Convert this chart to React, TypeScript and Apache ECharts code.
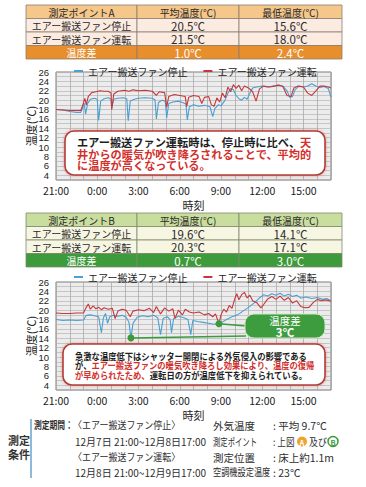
import React, { useEffect, useRef } from 'react';
import * as echarts from 'echarts';

const FF = '"Noto Sans CJK JP", "Noto Sans", sans-serif';
const NUMF = '"Liberation Sans Narrow", "Liberation Sans", sans-serif';

const seriesNames = ['エアー搬送ファン停止', 'エアー搬送ファン運転'];
const xTickLabels = ['21:00', '0:00', '3:00', '6:00', '9:00', '12:00', '15:00'];

// hours since 21:00, temperature (°C)
const aStop: [number, number][] = [
  [0, 18.0], [0.5, 17.9], [1.0, 17.6], [1.5, 17.4], [1.8, 17.4], [1.95, 18.5], [2.05, 19.4], [2.15, 17.0],
  [2.3, 19.3], [2.5, 20.2], [2.8, 20.4], [3.0, 20.2], [3.1, 15.7], [3.25, 19.8], [3.5, 20.3], [3.8, 20.5],
  [4.0, 20.2], [4.05, 18.3], [4.2, 20.2], [4.5, 20.4], [4.9, 20.5], [5.15, 20.3], [5.25, 15.6], [5.4, 19.8],
  [5.7, 20.2], [6.0, 20.4], [6.5, 20.5], [7.0, 20.4], [7.2, 20.1], [7.3, 16.0], [7.45, 19.5], [7.7, 20.0],
  [7.95, 19.8], [8.05, 16.2], [8.2, 19.3], [8.5, 19.6], [8.9, 19.8], [9.2, 19.5], [9.45, 19.2], [9.55, 15.8],
  [9.7, 18.6], [10.0, 19.0], [10.4, 18.7], [10.8, 18.9], [11.2, 18.6], [11.4, 16.5], [11.55, 18.2], [11.8, 19.0],
  [12.0, 18.8], [12.3, 20.0], [12.5, 21.5], [12.7, 22.5], [12.9, 22.2], [13.1, 21.0], [13.3, 20.3], [13.5, 20.0],
  [13.7, 20.6], [13.9, 20.2], [14.1, 21.5], [14.3, 22.6], [14.6, 22.8], [15.0, 23.0], [15.4, 22.8], [15.8, 23.0],
  [16.2, 23.2], [16.5, 23.0], [16.8, 22.0], [17.0, 20.6], [17.2, 20.8], [17.4, 22.3], [17.7, 23.0], [18.0, 22.8],
  [18.3, 23.0], [18.6, 23.5], [18.9, 23.0], [19.2, 22.7], [19.5, 22.9], [19.8, 22.5], [20.0, 20.6],
];

const aRun: [number, number][] = [
  [0, 18.0], [0.5, 17.9], [1.0, 17.8], [1.5, 17.8], [1.8, 17.8], [1.95, 19.0], [2.1, 20.4], [2.2, 19.0],
  [2.35, 20.8], [2.6, 21.6], [2.9, 21.8], [3.2, 22.0], [3.5, 21.9], [3.8, 21.9], [4.0, 21.5], [4.05, 18.0],
  [4.2, 21.3], [4.5, 21.9], [5.0, 22.1], [5.3, 21.9], [5.6, 22.2], [6.0, 22.0], [6.5, 22.1], [7.0, 21.9],
  [7.3, 21.0], [7.5, 21.8], [7.9, 21.6], [8.05, 18.5], [8.2, 20.8], [8.6, 21.2], [9.0, 21.0], [9.4, 20.8],
  [9.5, 18.6], [9.65, 20.6], [10.0, 21.0], [10.4, 20.8], [10.6, 19.3], [10.8, 20.6], [11.1, 20.8], [11.3, 19.0],
  [11.5, 18.7], [11.7, 20.5], [11.9, 19.6], [12.1, 21.5], [12.3, 20.5], [12.5, 22.8], [12.7, 21.8], [12.9, 23.3],
  [13.1, 22.5], [13.3, 23.2], [13.5, 22.0], [13.7, 23.0], [14.0, 22.6], [14.3, 21.8], [14.55, 19.8], [14.8, 22.4],
  [15.1, 23.0], [15.5, 22.8], [15.9, 23.0], [16.2, 23.2], [16.5, 22.9], [16.8, 21.0], [17.1, 20.8], [17.3, 22.6],
  [17.6, 23.0], [18.0, 22.8], [18.3, 21.5], [18.6, 21.0], [18.9, 22.0], [19.2, 23.0], [19.5, 23.0], [19.8, 22.8],
  [20.0, 22.6],
];

const bStop: [number, number][] = [
  [0, 18.0], [0.5, 17.8], [1.0, 17.9], [1.5, 17.8], [2.0, 17.9], [2.2, 18.9], [2.5, 19.0], [2.8, 18.8],
  [3.1, 18.6], [3.3, 15.2], [3.45, 18.4], [3.6, 19.3], [3.75, 17.2], [3.9, 18.6], [4.2, 18.9], [4.5, 18.7],
  [4.8, 18.9], [5.1, 18.5], [5.3, 17.5], [5.45, 14.1], [5.6, 17.2], [5.9, 18.5], [6.3, 18.8], [6.7, 18.6],
  [7.1, 18.9], [7.4, 18.4], [7.6, 14.8], [7.8, 18.3], [8.1, 18.6], [8.3, 18.0], [8.4, 15.2], [8.55, 18.2],
  [8.9, 18.7], [9.3, 18.4], [9.6, 18.0], [9.8, 14.8], [9.95, 17.8], [10.3, 17.6], [10.7, 17.4], [11.1, 17.2],
  [11.5, 17.0], [12.0, 17.3], [12.4, 18.0], [12.8, 18.6], [13.2, 19.0], [13.6, 19.8], [14.0, 20.6], [14.4, 21.5],
  [14.8, 22.6], [15.1, 23.3], [15.4, 23.0], [15.7, 23.5], [16.0, 23.2], [16.3, 23.6], [16.6, 23.0], [16.9, 23.4],
  [17.2, 22.9], [17.5, 23.2], [17.8, 22.6], [18.2, 22.8], [18.6, 22.5], [19.0, 22.7], [19.4, 22.3], [19.7, 22.5],
  [20.0, 22.0],
];

const bRun: [number, number][] = [
  [0, 19.4], [0.5, 19.3], [1.0, 19.3], [1.5, 19.4], [2.0, 19.4], [2.2, 20.6], [2.35, 21.3], [2.5, 20.2],
  [2.7, 20.9], [2.9, 20.3], [3.1, 20.6], [3.3, 20.1], [3.5, 20.5], [3.8, 20.2], [4.1, 20.4], [4.3, 18.2],
  [4.5, 19.8], [4.8, 20.2], [5.1, 20.0], [5.4, 18.6], [5.6, 19.8], [6.0, 20.1], [6.4, 19.9], [6.8, 20.4],
  [7.1, 19.5], [7.3, 20.8], [7.6, 19.2], [7.9, 20.5], [8.2, 19.8], [8.5, 20.3], [8.65, 18.2], [8.9, 20.0],
  [9.2, 19.0], [9.4, 20.2], [9.7, 19.6], [10.0, 19.4], [10.4, 19.6], [10.8, 19.0], [11.1, 19.3], [11.4, 18.6],
  [11.6, 19.2], [11.85, 17.1], [12.0, 19.0], [12.2, 20.2], [12.4, 19.6], [12.6, 21.0], [12.8, 20.4], [13.0, 22.4],
  [13.15, 23.5], [13.3, 22.2], [13.5, 23.3], [13.7, 23.8], [13.9, 22.6], [14.1, 23.2], [14.3, 22.0], [14.6, 21.6],
  [14.9, 20.5], [15.1, 21.2], [15.4, 22.4], [15.7, 22.9], [16.0, 22.3], [16.3, 23.0], [16.6, 22.1], [16.9, 22.7],
  [17.2, 21.5], [17.5, 22.0], [17.8, 20.8], [18.1, 20.5], [18.4, 20.6], [18.7, 21.6], [19.0, 22.3], [19.3, 22.0],
  [19.6, 22.2], [20.0, 21.9],
];

const bStopMin: [number, number] = [5.45, 14.1];
const bRunMin: [number, number] = [11.85, 17.1];

const tableHeadA = ['測定ポイントA', '平均温度(℃)', '最低温度(℃)'];
const tableRowsA = [
  ['エアー搬送ファン停止', '20.5℃', '15.6℃'],
  ['エアー搬送ファン運転', '21.5℃', '18.0℃'],
  ['温度差', '1.0℃', '2.4℃'],
];
const tableHeadB = ['測定ポイントB', '平均温度(℃)', '最低温度(℃)'];
const tableRowsB = [
  ['エアー搬送ファン停止', '19.6℃', '14.1℃'],
  ['エアー搬送ファン運転', '20.3℃', '17.1℃'],
  ['温度差', '0.7℃', '3.0℃'],
];

const BLUE = '#4a9fd3';
const RED = '#c8363b';
const GREEN = '#3b9a3b';

function buildTable(top: number, h: number, head: string[], rows: string[][], c: any) {
  const cols = [26, 137, 239, 342];
  const all = [head, ...rows];
  const els: any[] = [];
  all.forEach((row, ri) => {
    const y = top + ri * h;
    const isTotal = ri === all.length - 1;
    const fill = ri === 0 ? c.head : isTotal ? c.total : c.body;
    row.forEach((cell, ci) => {
      els.push({
        type: 'rect', z: 10,
        shape: { x: cols[ci], y, width: cols[ci + 1] - cols[ci], height: h },
        style: { fill, stroke: c.border, lineWidth: 0.8 },
      });
      const numeric = ci > 0 && ri > 0;
      els.push({
        type: 'text', z: 11,
        x: (cols[ci] + cols[ci + 1]) / 2, y: y + h / 2 + 0.5,
        style: {
          text: cell, fill: isTotal ? '#ffffff' : '#2a2a2a',
          fontSize: numeric ? 11.5 : 10, fontFamily: FF,
          align: 'center', verticalAlign: 'middle',
        },
      });
    });
  });
  return els;
}

function txt(x: number, y: number, text: string, size: number, opts: any = {}) {
  return {
    type: 'text', z: opts.z ?? 20, x, y, scaleX: opts.scaleX ?? 1,
    style: {
      text, fill: opts.fill ?? '#2e2e2e', fontSize: size, fontFamily: FF,
      fontWeight: opts.weight ?? 'normal', align: opts.align ?? 'left', verticalAlign: 'middle',
    },
  };
}

function makeOption() {
  const xAxisBase = (gridIndex: number) => ({
    type: 'value', gridIndex, min: 0, max: 20, interval: 1,
    name: '時刻', nameLocation: 'middle', nameGap: 19, nameMoveOverlap: false,
    nameTextStyle: { fontSize: 11, color: '#222', fontFamily: FF },
    axisLine: { show: false }, axisTick: { show: false },
    axisLabel: {
      fontSize: 10.5, color: '#222', margin: 5, fontFamily: FF,
      formatter: (v: number) => (v % 3 === 0 && v <= 18 ? xTickLabels[v / 3] : ''),
    },
    splitLine: { show: true, lineStyle: { color: '#a9a9a9', width: 0.8 } },
  });
  const yAxisBase = (gridIndex: number) => ({
    type: 'value', gridIndex, min: 3, max: 26, interval: 1,
    name: '温度(℃)', nameLocation: 'middle', nameGap: 20, nameRotate: 90, nameMoveOverlap: false,
    nameTextStyle: { fontSize: 11, color: '#222', fontFamily: FF },
    axisLine: { show: false }, axisTick: { show: false },
    axisLabel: {
      fontSize: 9.5, color: '#222', margin: 7, fontFamily: NUMF, lineHeight: 9,
      formatter: (v: number) => (v % 2 === 0 ? String(v) : ''),
    },
    splitLine: { show: true, lineStyle: { color: '#b4b4b4', width: 0.7 } },
  });
  const lineS = (name: string, data: any, idx: number, color: string, extra: any = {}) => ({
    type: 'line', name, data, xAxisIndex: idx, yAxisIndex: idx,
    showSymbol: false, symbol: 'none', color,
    lineStyle: { width: 1.1, color }, ...extra,
  });
  const legendBase = (top: number) => ({
    top, left: 69, itemWidth: 9, itemHeight: 2, itemGap: 16, icon: 'rect',
    textStyle: { fontSize: 10, color: '#222', fontFamily: FF },
    data: seriesNames,
  });

  const markers = (pt: [number, number], end: { x: number; y: number }) => ({
    markPoint: {
      symbol: 'circle', symbolSize: 7, silent: true,
      itemStyle: { color: GREEN },
      label: { show: false },
      data: [{ coord: pt }],
    },
    markLine: {
      symbol: ['none', 'none'], silent: true,
      lineStyle: { color: GREEN, width: 1.5, type: 'solid' },
      label: { show: false },
      data: [[{ coord: pt }, { x: end.x, y: end.y }]],
    },
  });

  const graphic: any[] = [
    ...buildTable(5, 13.5, tableHeadA, tableRowsA, { head: '#f5c78b', body: '#fcebe1', total: '#e88e2d', border: '#8c7d70' }),
    ...buildTable(213, 13.5, tableHeadB, tableRowsB, { head: '#c9dd9e', body: '#f7f6e3', total: '#3e9b3b', border: '#7d8a6c' }),
    // callout A
    {
      type: 'rect', z: 30,
      shape: { x: 65, y: 131, width: 260, height: 44, r: 9 },
      style: { fill: '#ffffff', stroke: '#b23c36', lineWidth: 1.6, shadowBlur: 3, shadowColor: 'rgba(210,90,90,0.6)' },
    },
    {
      type: 'text', z: 31, x: 77, y: 136,
      style: {
        text: '{k|エアー搬送ファン運転時は、停止時に比べ、}{r|天}\n{r|井からの暖気が吹き降ろされることで、平均的}\n{r|に温度が高くなっている。}',
        verticalAlign: 'top', align: 'left', fontSize: 11.2, fontFamily: FF,
        rich: {
          k: { fill: '#1e1e1e', color: '#1e1e1e', fontSize: 11.2, fontWeight: 'bold', fontFamily: FF, lineHeight: 11.7 },
          r: { fill: '#d2302c', color: '#d2302c', fontSize: 11.2, fontWeight: 'bold', fontFamily: FF, lineHeight: 11.7 },
        },
      },
    },
    // callout B
    {
      type: 'rect', z: 30,
      shape: { x: 63, y: 344, width: 262, height: 41, r: 9 },
      style: { fill: '#ffffff', stroke: '#b23c36', lineWidth: 1.6, shadowBlur: 3, shadowColor: 'rgba(210,90,90,0.6)' },
    },
    {
      type: 'text', z: 31, x: 75, y: 351, scaleX: 0.875,
      style: {
        text: '{k|急激な温度低下はシャッター開閉による外気侵入の影響である}\n{k|が、}{r|エアー搬送ファンの暖気吹き降ろし効果により、温度の復帰}\n{r|が早められたため、}{k|運転日の方が温度低下を抑えられている。}',
        verticalAlign: 'top', align: 'left', fontSize: 9.5, fontFamily: FF,
        rich: {
          k: { fill: '#1e1e1e', color: '#1e1e1e', fontSize: 9.5, fontWeight: 'bold', fontFamily: FF, lineHeight: 9.7 },
          r: { fill: '#d2302c', color: '#d2302c', fontSize: 9.5, fontWeight: 'bold', fontFamily: FF, lineHeight: 9.7 },
        },
      },
    },
    // green difference box
    {
      type: 'rect', z: 30,
      shape: { x: 245, y: 314, width: 80, height: 24, r: 9 },
      style: { fill: '#3d9c3d', stroke: '#cfe8c6', lineWidth: 1 },
    },
    txt(285, 320, '温度差', 10.5, { fill: '#ffffff', align: 'center', z: 32 }),
    txt(285, 332, '3℃', 11.5, { fill: '#ffffff', align: 'center', weight: 'bold', z: 32 }),
    // bottom conditions
    { type: 'line', z: 20, shape: { x1: 31, y1: 419, x2: 31, y2: 478 }, style: { stroke: '#8dbad8', lineWidth: 2 } },
    txt(19, 440, '測定', 11, { align: 'center', weight: 'bold', fill: '#333' }),
    txt(19, 453.5, '条件', 11, { align: 'center', weight: 'bold', fill: '#333' }),
    txt(34, 425, '測定期間：', 10, { scaleX: 0.78, weight: 'bold' }),
    txt(73, 425, '〈エアー搬送ファン停止〉', 10, { scaleX: 0.9 }),
    txt(75, 441.5, '12月7日 21:00~12月8日17:00', 10),
    txt(73, 457, '〈エアー搬送ファン運転〉', 10, { scaleX: 0.9 }),
    txt(75, 472, '12月8日 21:00~12月9日17:00', 10),
    txt(213, 425, '外気温度', 10.5),
    txt(213, 441.5, '測定ポイント', 10.5, { scaleX: 0.7 }),
    txt(213, 457, '測定位置', 10.5),
    txt(213, 472, '空調機設定温度', 10.5, { scaleX: 0.78 }),
    txt(273, 425, ': 平均 9.7℃', 10.5),
    txt(273, 441.5, ': 上図', 10.5, { scaleX: 0.82 }),
    { type: 'circle', z: 20, shape: { cx: 302, cy: 441.5, r: 5 }, style: { fill: '#f0a22e' } },
    txt(302, 442, 'A', 7.5, { align: 'center', fill: '#ffffff', weight: 'bold', z: 21 }),
    txt(309, 441.5, '及び', 10.5, { scaleX: 0.85 }),
    { type: 'circle', z: 20, shape: { cx: 333, cy: 441.5, r: 5 }, style: { fill: '#ffffff', stroke: '#3e9b3b', lineWidth: 1.5 } },
    txt(333, 442, 'B', 7.5, { align: 'center', fill: '#3e9b3b', weight: 'bold', z: 21 }),
    txt(273, 457, ': 床上約1.1m', 10.5),
    txt(273, 472, ': 23℃', 10.5),
  ];

  return {
    animation: false,
    backgroundColor: '#ffffff',
    textStyle: { fontFamily: FF },
    legend: [legendBase(61), legendBase(267)],
    grid: [
      { left: 56, top: 72, width: 275, height: 108, show: true, backgroundColor: '#ececec', borderColor: '#7a7a7a', borderWidth: 1 },
      { left: 56, top: 282, width: 275, height: 108, show: true, backgroundColor: '#ececec', borderColor: '#7a7a7a', borderWidth: 1 },
    ],
    xAxis: [xAxisBase(0), xAxisBase(1)],
    yAxis: [yAxisBase(0), yAxisBase(1)],
    series: [
      lineS(seriesNames[0], aStop, 0, BLUE),
      lineS(seriesNames[1], aRun, 0, RED),
      lineS(seriesNames[0], bStop, 1, BLUE, markers(bStopMin, { x: 246, y: 336 })),
      lineS(seriesNames[1], bRun, 1, RED, markers(bRunMin, { x: 246, y: 326 })),
    ],
    graphic,
  };
}

export default function App() {
  const ref = useRef<HTMLDivElement>(null);
  useEffect(() => {
    document.body.style.margin = '0';
    const chart = echarts.init(ref.current as HTMLDivElement, null, { renderer: 'svg' });
    chart.setOption(makeOption() as any);
    return () => chart.dispose();
  }, []);
  return <div ref={ref} style={{ width: 366, height: 487 }} />;
}
